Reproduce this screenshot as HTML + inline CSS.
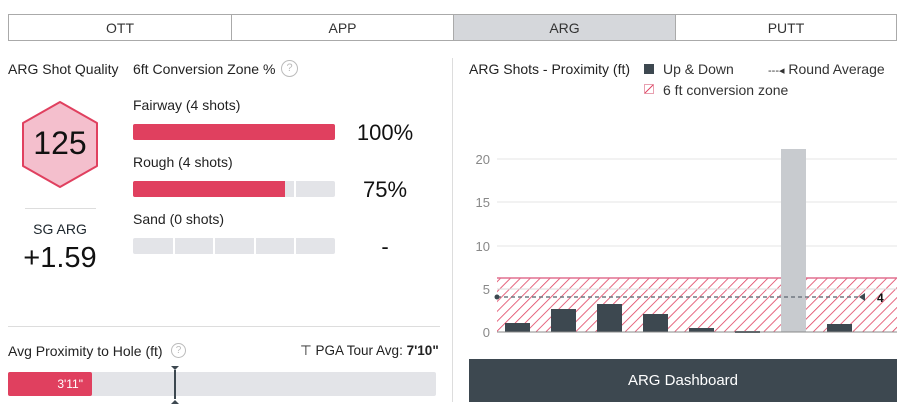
<!DOCTYPE html><html><head><style>
body{margin:0;width:908px;height:415px;background:#fff;font-family:"Liberation Sans",sans-serif;color:#1c252c;position:relative;overflow:hidden}
.a{position:absolute}
.tab{position:absolute;top:14px;height:27px;line-height:27px;text-align:center;font-size:14px;color:#333;border:1px solid #aaa;box-sizing:border-box}
.bar{position:absolute;left:133px;width:202px;height:16px;background:#e3e4e8;border-radius:2px;overflow:hidden}
.seg{position:absolute;top:0;width:2px;height:16px;background:#fff}
.lbl{font-size:14px;color:#222}
.pct{position:absolute;font-size:22px;width:80px;text-align:center;left:345px;color:#111}
</style></head><body>
<div class="tab" style="left:8px;width:224px">OTT</div>
<div class="tab" style="left:231px;width:223px">APP</div>
<div class="tab" style="left:453px;width:223px;background:#d5d7db">ARG</div>
<div class="tab" style="left:675px;width:222px">PUTT</div>

<div class="a lbl" style="left:8px;top:61px">ARG Shot Quality</div>
<div class="a lbl" style="left:133px;top:61px">6ft Conversion Zone %</div>
<div class="a" style="left:281px;top:60px;width:15px;height:15px;border:1.5px solid #bbb;border-radius:50%;color:#bbb;font-size:11px;text-align:center;line-height:15px">?</div>

<svg class="a" style="left:20px;top:100px" width="80" height="90"><polygon points="40,2 77,23 77,66 40,87 3,66 3,23" fill="#f4bfcd" stroke="#e0405f" stroke-width="2" stroke-linejoin="round"/></svg>
<div class="a" style="left:20px;top:125px;width:80px;text-align:center;font-size:32px;color:#111">125</div>
<div class="a" style="left:25px;top:208px;width:71px;height:1px;background:#ddd"></div>
<div class="a" style="left:0;top:221px;width:120px;text-align:center;font-size:14px">SG ARG</div>
<div class="a" style="left:0;top:242px;width:120px;text-align:center;font-size:29px;color:#111">+1.59</div>

<div class="a lbl" style="left:133px;top:97px">Fairway (4 shots)</div>
<div class="bar" style="top:124px"><div class="a" style="left:0;top:0;width:202px;height:16px;background:#e0405f"></div></div>
<div class="pct" style="top:120px">100%</div>
<div class="a lbl" style="left:133px;top:154px">Rough (4 shots)</div>
<div class="bar" style="top:181px"><div class="a" style="left:0;top:0;width:152px;height:16px;background:#e0405f"></div><div class="seg" style="left:161px"></div></div>
<div class="pct" style="top:177px">75%</div>
<div class="a lbl" style="left:133px;top:211px">Sand (0 shots)</div>
<div class="bar" style="top:238px"><div class="seg" style="left:40px"></div><div class="seg" style="left:80px"></div><div class="seg" style="left:121px"></div><div class="seg" style="left:161px"></div></div>
<div class="pct" style="top:234px">-</div>

<div class="a" style="left:8px;top:326px;width:432px;height:1px;background:#ddd"></div>
<div class="a lbl" style="left:8px;top:343px">Avg Proximity to Hole (ft)</div>
<div class="a" style="left:171px;top:343px;width:13px;height:13px;border:1.5px solid #bbb;border-radius:50%;color:#bbb;font-size:10px;text-align:center;line-height:13px">?</div>
<div class="a lbl" style="left:300px;top:343px;font-size:13.5px">⊤ PGA Tour Avg: <b>7'10"</b></div>
<div class="a" style="left:8px;top:372px;width:428px;height:24px;background:#e3e4e8;border-radius:2px"></div>
<div class="a" style="left:8px;top:372px;width:84px;height:24px;background:#e0405f;border-radius:2px;color:#fff;font-size:12px;line-height:24px;text-align:right;box-sizing:border-box;padding-right:9px">3'11"</div>
<div class="a" style="left:174px;top:370px;width:2px;height:29px;background:#3d4850"></div>
<div class="a" style="left:171px;top:366px;border:4px solid transparent;border-top:4px solid #3d4850"></div>
<div class="a" style="left:171px;top:396px;border:4px solid transparent;border-bottom:4px solid #3d4850"></div>

<div class="a" style="left:452px;top:58px;width:1px;height:344px;background:#ddd"></div>
<div class="a lbl" style="left:469px;top:61px">ARG Shots - Proximity (ft)</div>
<div class="a" style="left:644px;top:64px;width:10px;height:10px;background:#3d4850"></div>
<div class="a lbl" style="left:663px;top:61px;color:#333">Up &amp; Down</div>
<div class="a lbl" style="left:768px;top:61px;color:#333"><span style="font-size:11px">---◂</span> Round Average</div>
<svg class="a" style="left:644px;top:84px" width="10" height="10"><rect x="0.5" y="0.5" width="9" height="9" fill="#fff" stroke="#e8a0b0"/><line x1="1" y1="9" x2="9" y2="1" stroke="#e0405f"/></svg>
<div class="a lbl" style="left:663px;top:82px;color:#333">6 ft conversion zone</div>

<svg class="a" style="left:460px;top:140px" width="448" height="200" font-family="Liberation Sans" font-size="13" fill="#888">
<defs><pattern id="h" width="7" height="7" patternUnits="userSpaceOnUse" patternTransform="rotate(45)"><rect width="7" height="7" fill="#fff"/><line x1="0" y1="0" x2="0" y2="7" stroke="#e0405f" stroke-width="1.6"/></pattern></defs>
<g stroke="#e4e4e4"><line x1="37" y1="19" x2="437" y2="19"/><line x1="37" y1="62" x2="437" y2="62"/><line x1="37" y1="106" x2="437" y2="106"/></g>
<rect x="37" y="138" width="400" height="54" fill="url(#h)"/>
<line x1="37" y1="138" x2="437" y2="138" stroke="#e07090" stroke-width="1.5"/>
<line x1="37" y1="149" x2="437" y2="149" stroke="#ddd"/>
<text x="30" y="24" text-anchor="end">20</text><text x="30" y="67" text-anchor="end">15</text><text x="30" y="111" text-anchor="end">10</text><text x="30" y="154" text-anchor="end">5</text><text x="30" y="197" text-anchor="end">0</text>
<g fill="#3d4850"><rect x="45" y="183" width="25" height="9"/><rect x="91" y="169" width="25" height="23"/><rect x="137" y="164" width="25" height="28"/><rect x="183" y="174" width="25" height="18"/><rect x="229" y="188" width="25" height="4"/><rect x="275" y="191" width="25" height="2"/><rect x="367" y="184" width="25" height="8"/></g>
<rect x="321" y="9" width="25" height="183" fill="#c8cbcf"/>
<line x1="37" y1="157" x2="400" y2="157" stroke="#707880" stroke-width="1.5" stroke-dasharray="4,3"/>
<circle cx="37" cy="157" r="2.5" fill="#3d4850"/>
<polygon points="399,157 405,153 405,161" fill="#3d4850"/>
<text x="417" y="162" fill="#111" font-size="12" font-weight="bold">4</text>
<line x1="37" y1="192" x2="437" y2="192" stroke="#888"/>
</svg>

<div class="a" style="left:469px;top:359px;width:428px;height:43px;background:#3d4850;color:#fff;font-size:15px;line-height:43px;text-align:center">ARG Dashboard</div>
</body></html>
